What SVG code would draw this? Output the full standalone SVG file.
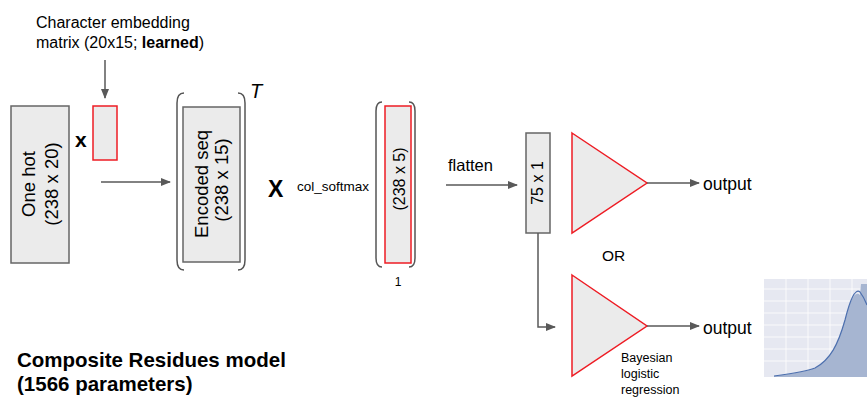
<svg xmlns="http://www.w3.org/2000/svg" width="867" height="398" viewBox="0 0 867 398">
<defs>
<marker id="ah" markerWidth="10" markerHeight="8" refX="9" refY="4" orient="auto" markerUnits="userSpaceOnUse">
<path d="M0,0 L10,4 L0,8 Z" fill="#595959"/>
</marker>
<clipPath id="cc"><rect x="764" y="279" width="103" height="98"/></clipPath>
</defs>
<style>
text{font-family:"Liberation Sans",Arial,sans-serif;fill:#000}
.box{fill:#ebebeb;stroke:#666;stroke-width:1.5}
.red{fill:#ebebeb;stroke:#ee1c24;stroke-width:1.5}
.br{fill:none;stroke:#555;stroke-width:1.5}
.ln{fill:none;stroke:#595959;stroke-width:1.5}
.grid{stroke:#fff;stroke-width:0.8}
</style>
<rect width="867" height="398" fill="#fff"/>

<g id="caption">
<text x="36" y="28" font-size="16">Character embedding</text>
<text x="36" y="48" font-size="16">matrix  (20x15; <tspan font-weight="bold">learned</tspan>)</text>
</g>

<g id="onehot">
<rect class="box" x="11" y="106" width="58" height="157"/>
<text transform="translate(35,184) rotate(-90)" font-size="18.5" text-anchor="middle">One hot</text>
<text transform="translate(58,184) rotate(-90)" font-size="18.5" text-anchor="middle">(238 x 20)</text>
</g>

<g id="times1"><text x="75" y="147" font-size="21" font-weight="bold">x</text></g>

<g id="embedding">
<rect class="red" x="93" y="106" width="24" height="54"/>
</g>

<g id="encoded">
<path class="br" d="M184,93 Q177,93 177,103 L177,260 Q177,270 184,270"/>
<path class="br" d="M238,93 Q245,93 245,103 L245,260 Q245,270 238,270"/>
<rect class="box" x="183" y="107" width="57" height="155"/>
<text transform="translate(208,184) rotate(-90)" font-size="18.5" text-anchor="middle">Encoded seq</text>
<text transform="translate(228,180) rotate(-90)" font-size="18.5" text-anchor="middle">(238 x 15)</text>
<text x="250" y="98" font-size="20" font-style="italic">T</text>
</g>

<g id="times2">
<text x="268" y="197" font-size="23" font-weight="bold">X</text>
<text x="297" y="191" font-size="13.5">col_softmax</text>
</g>

<g id="softmax">
<path class="br" d="M382,102 Q376,102 376,111 L376,258 Q376,267 382,267"/>
<path class="br" d="M409,102 Q415,102 415,111 L415,258 Q415,267 409,267"/>
<rect class="red" x="385" y="106" width="26" height="157"/>
<text transform="translate(405,179) rotate(-90)" font-size="16" text-anchor="middle">(238 x 5)</text>
<text x="398" y="286" font-size="12" text-anchor="middle">1</text>
</g>

<g id="flatten-label"><text x="448" y="171" font-size="16.5">flatten</text></g>

<g id="vec">
<rect class="box" x="526" y="133" width="24" height="100"/>
<text transform="translate(543,183) rotate(-90)" font-size="16" text-anchor="middle">75 x 1</text>
</g>

<g id="tri1">
<path class="red" d="M572,133 L647,183 L572,233 Z"/>
</g>
<g id="out1"><text x="703" y="190" font-size="17.5">output</text></g>

<g id="or"><text x="602" y="261" font-size="15.5">OR</text></g>

<g id="tri2">
<path class="red" d="M572,275 L647,326 L572,376 Z"/>
</g>
<g id="out2"><text x="703" y="334" font-size="17.5">output</text></g>

<g id="bayes">
<text x="621" y="362" font-size="12.5">Bayesian</text>
<text x="621" y="378" font-size="12.5">logistic</text>
<text x="621" y="394" font-size="12.5">regression</text>
</g>

<g id="title">
<text x="17" y="367" font-size="20.5" font-weight="bold">Composite Residues model</text>
<text x="17" y="391" font-size="20.5" font-weight="bold">(1566 parameters)</text>
</g>

<g id="chart" clip-path="url(#cc)">
<rect x="764" y="279" width="103" height="98" fill="#e6e8f1"/>
<line class="grid" x1="786" y1="279" x2="786" y2="377"/>
<line class="grid" x1="808" y1="279" x2="808" y2="377"/>
<line class="grid" x1="830" y1="279" x2="830" y2="377"/>
<line class="grid" x1="852" y1="279" x2="852" y2="377"/>
<line class="grid" x1="764" y1="289" x2="867" y2="289"/>
<line class="grid" x1="764" y1="301" x2="867" y2="301"/>
<line class="grid" x1="764" y1="313" x2="867" y2="313"/>
<line class="grid" x1="764" y1="325" x2="867" y2="325"/>
<line class="grid" x1="764" y1="337" x2="867" y2="337"/>
<line class="grid" x1="764" y1="349" x2="867" y2="349"/>
<line class="grid" x1="764" y1="361" x2="867" y2="361"/>
<path d="M774,376 C790,374 805,372 815,368 C830,360 838,345 845,320 C850,300 855,290 860,295 L861,284 L867,284 L867,377 L774,377 Z" fill="#a6b5d1"/>
<path d="M774,376 C790,374 805,372 815,368 C830,360 838,345 845,320 C850,300 855,288 860,292 C863,296 865,300 867,305" fill="none" stroke="#4c6fae" stroke-width="1.2"/>
</g>

<g id="connectors">
<line class="ln" x1="105" y1="60" x2="105" y2="98" marker-end="url(#ah)"/>
<line class="ln" x1="101" y1="182" x2="170" y2="182" marker-end="url(#ah)"/>
<line class="ln" x1="446" y1="185" x2="517" y2="185" marker-end="url(#ah)"/>
<line class="ln" x1="647" y1="183" x2="699" y2="183" marker-end="url(#ah)"/>
<path class="ln" d="M538,233 L538,327 L555,327" marker-end="url(#ah)"/>
<line class="ln" x1="647" y1="326" x2="699" y2="326" marker-end="url(#ah)"/>
</g>
</svg>
